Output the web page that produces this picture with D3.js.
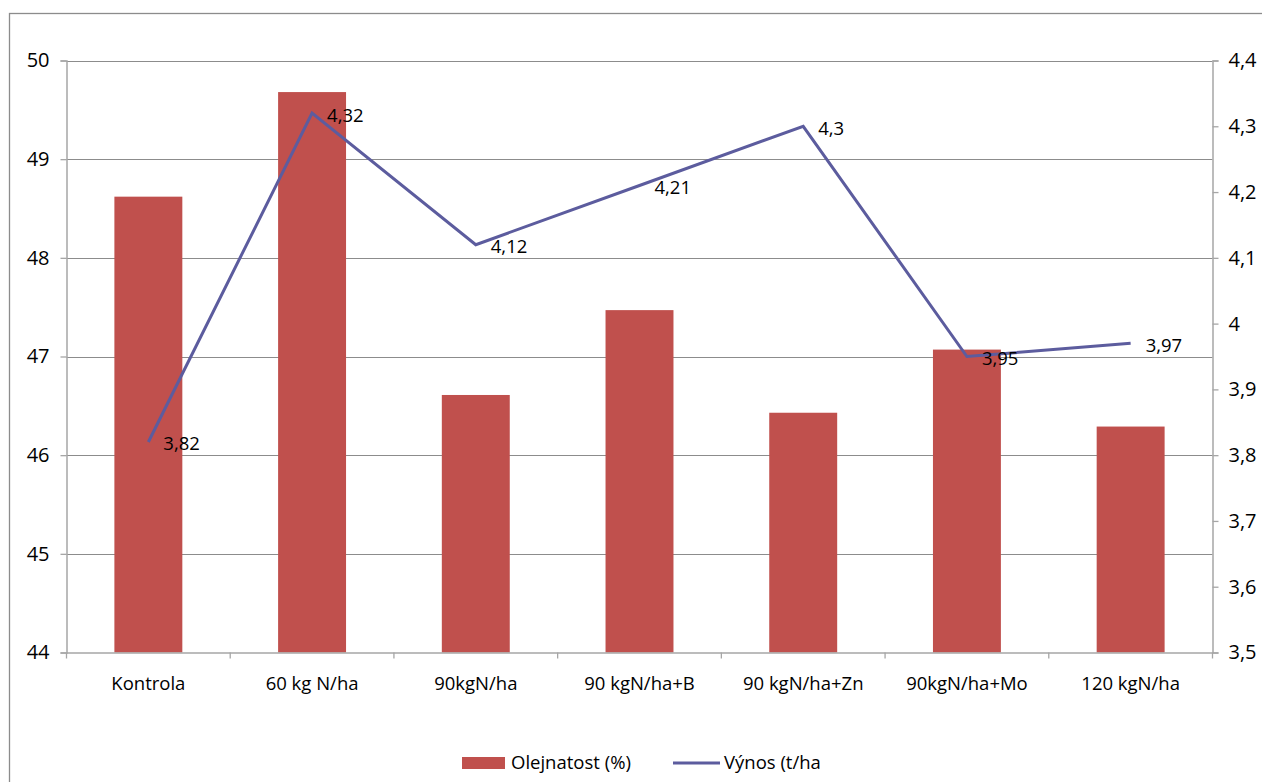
<!DOCTYPE html>
<html>
<head>
<meta charset="utf-8">
<script src="https://cdn.jsdelivr.net/npm/d3@7"></script>
<style>
  html, body { margin: 0; padding: 0; background: #fff; }
  svg text { font-family: "Open Sans", "Noto Sans", sans-serif; fill: #000; }
</style>
</head>
<body>
<svg id="chart" width="1262" height="782"></svg>
<script>
// Treatments and measured values
const categories = ["Kontrola", "60 kg N/ha", "90kgN/ha", "90 kgN/ha+B", "90 kgN/ha+Zn", "90kgN/ha+Mo", "120 kgN/ha"];
const olejnatost = [48.62, 49.68, 46.61, 47.47, 46.43, 47.07, 46.29];
const vynos = [3.82, 4.32, 4.12, 4.21, 4.30, 3.95, 3.97];
const leftTicks = [44, 45, 46, 47, 48, 49, 50];
const rightTicks = [3.5, 3.6, 3.7, 3.8, 3.9, 4.0, 4.1, 4.2, 4.3, 4.4];
const seriesNames = ["Olejnatost (%)", "Výnos (t/ha"];

const svg = d3.select("#chart");
const fmt = v => d3.format("~g")(v).replace(".", ",");

// Plot area
const plot = { left: 66.5, right: 1212.5, top: 60.5, bottom: 652.5 };

const x = d3.scaleBand().domain(categories).range([plot.left, plot.right]).paddingInner(0).paddingOuter(0);
const yL = d3.scaleLinear().domain([44, 50]).range([plot.bottom, plot.top]);
const yR = d3.scaleLinear().domain([3.5, 4.4]).range([plot.bottom, plot.top]);

// Outer chart frame
svg.append("rect")
  .attr("x", 9.5).attr("y", 13.5).attr("width", 1400).attr("height", 900)
  .attr("fill", "none").attr("stroke", "#8c8c8c").attr("stroke-width", 1.3);

// Horizontal gridlines
svg.append("g").selectAll("line").data(leftTicks.slice(1)).join("line")
  .attr("x1", plot.left).attr("x2", plot.right)
  .attr("y1", d => Math.round(yL(d)) + 0.5).attr("y2", d => Math.round(yL(d)) + 0.5)
  .attr("stroke", "#8c8c8c").attr("stroke-width", 1);

// Bars
const barW = x.bandwidth() * 0.415;
svg.append("g").selectAll("rect").data(olejnatost).join("rect")
  .attr("x", (d, i) => x(categories[i]) + x.bandwidth() / 2 - barW / 2)
  .attr("width", barW)
  .attr("y", d => yL(d))
  .attr("height", d => yL(44) - yL(d))
  .attr("fill", "#c0504d");

// Left axis
const axL = svg.append("g").attr("transform", `translate(${plot.left},0)`)
  .call(d3.axisLeft(yL).tickValues(leftTicks).tickSize(6).tickPadding(11).tickFormat(d => d));
axL.select(".domain").attr("stroke", "#a6a6a6").attr("stroke-width", 1.5);
axL.selectAll(".tick line").attr("stroke", "#a6a6a6").attr("stroke-width", 1.3);
axL.selectAll(".tick text").attr("font-size", 20).attr("font-family", "Open Sans").attr("fill", "#000");

// Right axis
const axR = svg.append("g").attr("transform", `translate(${plot.right},0)`)
  .call(d3.axisRight(yR).tickValues(rightTicks).tickSize(6).tickPadding(10).tickFormat(fmt));
axR.select(".domain").attr("stroke", "#a6a6a6").attr("stroke-width", 1.5);
axR.selectAll(".tick line").attr("stroke", "#a6a6a6").attr("stroke-width", 1.3);
axR.selectAll(".tick text").attr("font-size", 20).attr("font-family", "Open Sans").attr("fill", "#000");

// Bottom axis
const axB = svg.append("g").attr("transform", `translate(0,${plot.bottom})`)
  .call(d3.axisBottom(x).tickSize(0).tickPadding(24));
axB.select(".domain").attr("stroke", "#a6a6a6").attr("stroke-width", 1.5);
axB.selectAll(".tick text").attr("font-size", 18.5).attr("font-family", "Open Sans").attr("fill", "#000");
// Category boundary tick marks
svg.append("g").selectAll("line").data(d3.range(categories.length + 1)).join("line")
  .attr("x1", i => plot.left + i * x.bandwidth()).attr("x2", i => plot.left + i * x.bandwidth())
  .attr("y1", plot.bottom).attr("y2", plot.bottom + 6)
  .attr("stroke", "#a6a6a6").attr("stroke-width", 1.3);

// Yield line
const line = d3.line()
  .x((d, i) => x(categories[i]) + x.bandwidth() / 2)
  .y(d => yR(d));
svg.append("path").datum(vynos)
  .attr("d", line)
  .attr("fill", "none").attr("stroke", "#5c5c9e").attr("stroke-width", 3)
  .attr("stroke-linejoin", "miter");

// Data labels for yield
svg.append("g").selectAll("text").data(vynos).join("text")
  .attr("x", (d, i) => x(categories[i]) + x.bandwidth() / 2 + 15)
  .attr("y", d => yR(d) + 2)
  .attr("dy", "0.35em")
  .attr("font-size", 18.5)
  .text(fmt);

// Legend
const lg = svg.append("g");
lg.append("rect").attr("x", 462).attr("y", 757).attr("width", 43).attr("height", 12).attr("fill", "#c0504d");
lg.append("text").attr("x", 511).attr("y", 763).attr("dy", "0.35em").attr("font-size", 18.5).text(seriesNames[0]);
lg.append("line").attr("x1", 673).attr("x2", 720).attr("y1", 763).attr("y2", 763)
  .attr("stroke", "#5c5c9e").attr("stroke-width", 3);
lg.append("text").attr("x", 724).attr("y", 763).attr("dy", "0.35em").attr("font-size", 18.5).text(seriesNames[1]);
</script>
</body>
</html>
